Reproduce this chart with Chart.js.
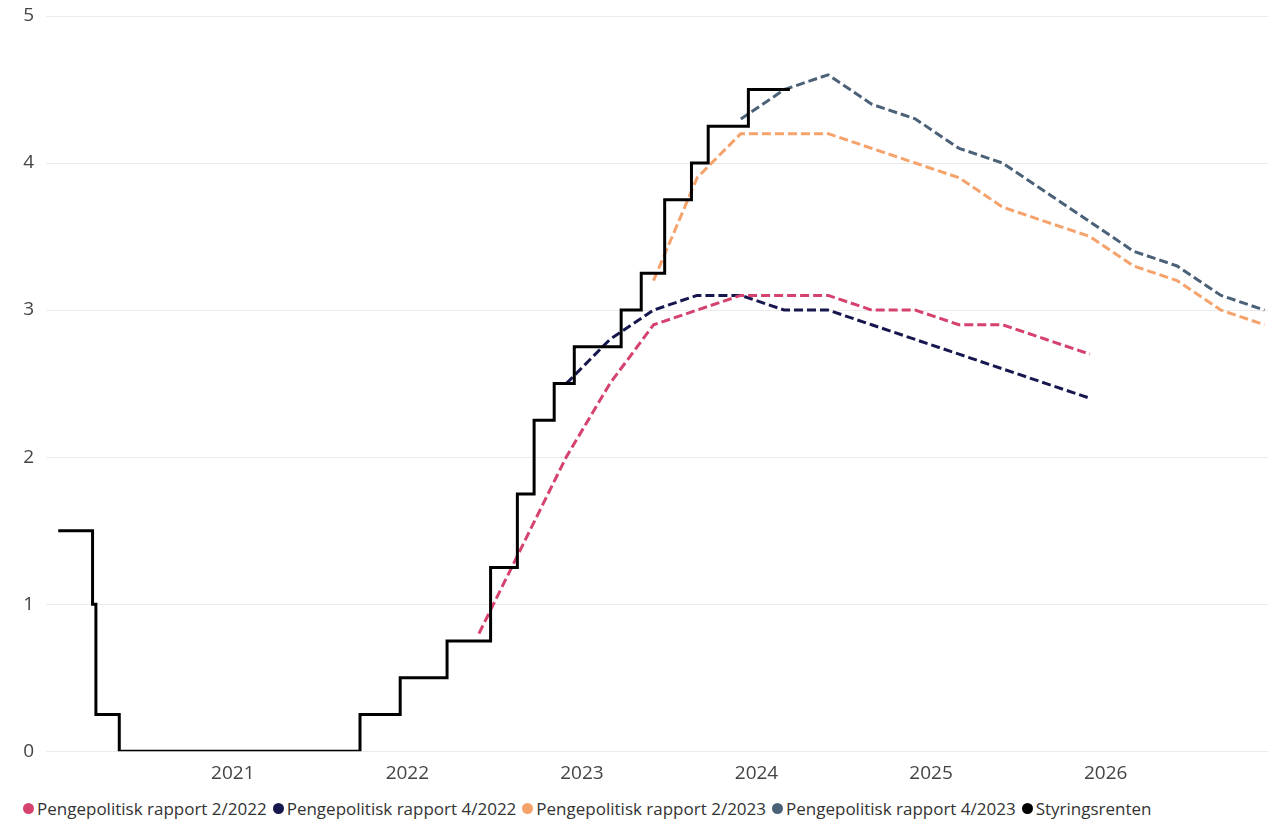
<!DOCTYPE html>
<html>
<head>
<meta charset="utf-8">
<script src="https://cdn.jsdelivr.net/npm/chart.js@4.4.1/dist/chart.umd.min.js"></script>
<style>
  html, body { margin: 0; padding: 0; background: #fff; }
  #wrap { position: relative; width: 1268px; height: 822px; }
  #chartBox { position: absolute; left: 0; top: 0; width: 1268px; height: 796px; }
  #legend {
    position: absolute; left: 23px; top: 797px;
    display: flex; align-items: center;
    font-family: "Open Sans", sans-serif; font-size: 17px; color: #333;
    white-space: nowrap;
  }
  #legend .item { display: flex; align-items: center; margin-right: 6px; }
  #legend .dot { width: 11px; height: 11px; border-radius: 50%; margin-right: 3px; }
</style>
</head>
<body>
<div id="wrap">
  <div id="chartBox"><canvas id="rateChart"></canvas></div>
  <div id="legend"></div>
</div>
<script>
// Styringsrenten: date of each rate decision and the new rate
const rateDates = ['2020-01-01', '2020-03-13', '2020-03-20', '2020-05-08', '2021-09-24', '2021-12-17',
  '2022-03-25', '2022-06-24', '2022-08-19', '2022-09-23', '2022-11-04', '2022-12-16',
  '2023-03-24', '2023-05-05', '2023-06-23', '2023-08-18', '2023-09-22', '2023-12-15', '2024-03-11'];
const rateValues = [1.5, 1.0, 0.25, 0, 0.25, 0.5, 0.75, 1.25, 1.75, 2.25, 2.5, 2.75,
  3.0, 3.25, 3.75, 4.0, 4.25, 4.5, 4.5];

// Rate paths from the monetary policy reports (quarterly)
const ppr222Quarters = ['2022K2', '2022K3', '2022K4', '2023K1', '2023K2', '2023K3', '2023K4',
  '2024K1', '2024K2', '2024K3', '2024K4', '2025K1', '2025K2', '2025K3', '2025K4'];
const ppr222Values = [0.8, 1.4, 2.0, 2.5, 2.9, 3.0, 3.1, 3.1, 3.1, 3.0, 3.0, 2.9, 2.9, 2.8, 2.7];

const ppr422Quarters = ['2022K4', '2023K1', '2023K2', '2023K3', '2023K4', '2024K1', '2024K2',
  '2024K3', '2024K4', '2025K1', '2025K2', '2025K3', '2025K4'];
const ppr422Values = [2.5, 2.8, 3.0, 3.1, 3.1, 3.0, 3.0, 2.9, 2.8, 2.7, 2.6, 2.5, 2.4];

const ppr223Quarters = ['2023K2', '2023K3', '2023K4', '2024K1', '2024K2', '2024K3', '2024K4',
  '2025K1', '2025K2', '2025K3', '2025K4', '2026K1', '2026K2', '2026K3', '2026K4'];
const ppr223Values = [3.2, 3.9, 4.2, 4.2, 4.2, 4.1, 4.0, 3.9, 3.7, 3.6, 3.5, 3.3, 3.2, 3.0, 2.9];

const ppr423Quarters = ['2023K4', '2024K1', '2024K2', '2024K3', '2024K4', '2025K1', '2025K2',
  '2025K3', '2025K4', '2026K1', '2026K2', '2026K3', '2026K4'];
const ppr423Values = [4.3, 4.5, 4.6, 4.4, 4.3, 4.1, 4.0, 3.8, 3.6, 3.4, 3.3, 3.1, 3.0];

const yearTicks = [2021, 2022, 2023, 2024, 2025, 2026];

// date string -> decimal year
function dateToYear(s) {
  const d = new Date(s + 'T00:00:00Z');
  const y = d.getUTCFullYear();
  const start = Date.UTC(y, 0, 1);
  const end = Date.UTC(y + 1, 0, 1);
  return y + (d.getTime() - start) / (end - start);
}

// quarter label -> decimal year (points sit a bit past the middle of the quarter)
function quarterToYear(q) {
  const y = parseInt(q.slice(0, 4), 10);
  const n = parseInt(q.slice(5), 10);
  return y + (n - 1) / 4 + 0.16;
}

function toPoints(xs, ys, conv) {
  return xs.map((x, i) => ({ x: conv(x), y: ys[i] }));
}

const dashed = {
  borderWidth: 3,
  borderDash: [9, 4],
  borderJoinStyle: 'round',
  pointRadius: 0,
  pointHoverRadius: 0,
  tension: 0,
  fill: false
};

const datasets = [
  Object.assign({ label: 'Pengepolitisk rapport 2/2022', data: toPoints(ppr222Quarters, ppr222Values, quarterToYear),
    borderColor: '#d6426e', backgroundColor: '#d6426e' }, dashed),
  Object.assign({ label: 'Pengepolitisk rapport 4/2022', data: toPoints(ppr422Quarters, ppr422Values, quarterToYear),
    borderColor: '#17174f', backgroundColor: '#17174f' }, dashed),
  Object.assign({ label: 'Pengepolitisk rapport 2/2023', data: toPoints(ppr223Quarters, ppr223Values, quarterToYear),
    borderColor: '#f5a26b', backgroundColor: '#f5a26b' }, dashed),
  Object.assign({ label: 'Pengepolitisk rapport 4/2023', data: toPoints(ppr423Quarters, ppr423Values, quarterToYear),
    borderColor: '#4b6178', backgroundColor: '#4b6178' }, dashed),
  {
    label: 'Styringsrenten',
    data: toPoints(rateDates, rateValues, dateToYear),
    borderColor: '#000000',
    backgroundColor: '#000000',
    borderWidth: 3,
    stepped: true,
    pointRadius: 0,
    pointHoverRadius: 0,
    order: -1
  }
];

const ctx = document.getElementById('rateChart');
const rateChart = new Chart(ctx, {
  type: 'line',
  data: { datasets: datasets },
  options: {
    responsive: true,
    maintainAspectRatio: false,
    animation: false,
    layout: { padding: { top: 16, right: 0, bottom: 0, left: 0 } },
    plugins: {
      legend: { display: false },
      tooltip: { enabled: false }
    },
    scales: {
      x: {
        type: 'linear',
        min: 2019.93,
        max: 2026.93,
        grid: { display: false, drawTicks: false },
        border: { display: false },
        afterBuildTicks: (axis) => {
          axis.ticks = yearTicks.map(v => ({ value: v }));
        },
        ticks: {
          padding: 11,
          color: '#444',
          font: { family: 'Open Sans', size: 19 },
          callback: (v) => String(v),
          maxRotation: 0,
          autoSkip: false
        }
      },
      y: {
        min: 0,
        max: 5,
        grid: { color: '#ebebeb', drawTicks: false },
        border: { display: false },
        afterFit: (axis) => {
          axis.width = 46;
          axis.paddingTop = 0;
          axis.paddingBottom = 0;
        },
        ticks: {
          stepSize: 1,
          padding: 12,
          color: '#444',
          font: { family: 'Open Sans', size: 19 }
        }
      }
    }
  }
});

// Legend built from the datasets
const legendBox = document.getElementById('legend');
rateChart.data.datasets.forEach((ds) => {
  const item = document.createElement('div');
  item.className = 'item';
  const dot = document.createElement('span');
  dot.className = 'dot';
  dot.style.background = ds.borderColor;
  const text = document.createElement('span');
  text.textContent = ds.label;
  item.appendChild(dot);
  item.appendChild(text);
  legendBox.appendChild(item);
});
</script>
</body>
</html>
